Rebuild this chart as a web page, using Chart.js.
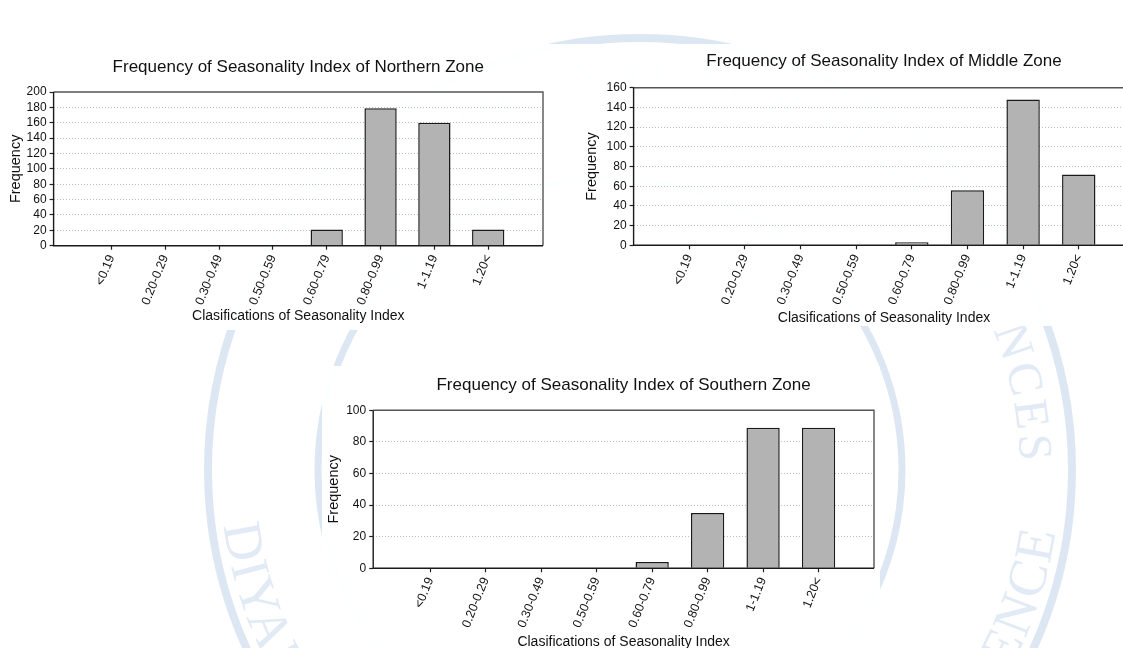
<!DOCTYPE html>
<html>
<head>
<meta charset="utf-8">
<title>Frequency of Seasonality Index</title>
<script src="https://cdn.jsdelivr.net/npm/chart.js@4.4.1/dist/chart.umd.min.js"></script>
<style>
  html, body { margin: 0; padding: 0; background: #fff; overflow: hidden; }
  #page { position: relative; width: 1123px; height: 648px; overflow: hidden; background: #fff; }
  #seal { position: absolute; left: 0; top: 0; }
  .panel { position: absolute; background: rgba(255,255,255,0.97); }
  canvas { position: absolute; }
</style>
</head>
<body>
<div id="page">
  <!-- faint journal seal in the page background -->
  <svg id="seal" width="1123" height="648" viewBox="0 0 1123 648">
    <defs>
      <path id="sealBottom" d="M 221.6 433.4 A 420 420 0 1 0 1058.4 433.4"/>
      <path id="sealTop" d="M 261.4 503.1 A 380 380 0 1 1 1018.6 503.1"/>
    </defs>
    <g fill="none" stroke="#dde7f4">
      <circle cx="640" cy="470" r="432" stroke-width="8"/>
      <circle cx="610" cy="470" r="292" stroke-width="7"/>
    </g>
    <g fill="#e2eaf6" font-family="'Liberation Serif', serif">
      <text font-size="54" letter-spacing="1.5" text-anchor="end"><textPath href="#sealBottom" startOffset="93%">DIYALA UNIVERSITY - COLLEGE OF SCIENCE</textPath></text>
      <text font-size="48" letter-spacing="4" text-anchor="end"><textPath href="#sealTop" startOffset="97%">JOURNAL FOR PURE SCIENCES</textPath></text>
    </g>
  </svg>

  <div class="panel" style="left:0px;top:44px;width:566px;height:286px"></div>
  <div class="panel" style="left:564px;top:44px;width:559px;height:282px"></div>
  <div class="panel" style="left:322px;top:366px;width:558px;height:282px"></div>

  <canvas id="northChart" width="580" height="300" style="left:0px;top:40px"></canvas>
  <canvas id="middleChart" width="580" height="310" style="left:580px;top:30px"></canvas>
  <canvas id="southChart" width="600" height="310" style="left:320px;top:350px"></canvas>
</div>

<script>
// Seasonality index classes (x axis) and counts per zone
const categories = ['<0.19', '0.20-0.29', '0.30-0.49', '0.50-0.59', '0.60-0.79', '0.80-0.99', '1-1.19', '1.20<'];
const northernFreq = [0, 0, 0, 0, 21, 179, 160, 21];
const middleFreq   = [0, 0, 0, 0, 3, 56, 148, 72];
const southernFreq = [0, 0, 0, 0, 4, 35, 89, 89];

const northernTitle = 'Frequency of Seasonality Index of Northern Zone';
const middleTitle   = 'Frequency of Seasonality Index of Middle Zone';
const southernTitle = 'Frequency of Seasonality Index of Southern Zone';
const xAxisTitle = 'Clasifications of Seasonality Index';
const yAxisTitle = 'Frequency';

Chart.defaults.font.family = "'Liberation Sans', Arial, Helvetica, sans-serif";
Chart.defaults.color = '#111';

// Box around the plotting area: dark axes on the left/bottom, grey frame top/right
const plotFrame = {
  id: 'plotFrame',
  afterDatasetsDraw(chart) {
    const { ctx, chartArea: a } = chart;
    ctx.save();
    ctx.lineWidth = 1.4;
    ctx.strokeStyle = '#555';
    ctx.beginPath();
    ctx.moveTo(a.left, a.top);
    ctx.lineTo(a.right, a.top);
    ctx.lineTo(a.right, a.bottom);
    ctx.stroke();
    ctx.strokeStyle = '#1a1a1a';
    ctx.beginPath();
    ctx.moveTo(a.left, a.top);
    ctx.lineTo(a.left, a.bottom);
    ctx.lineTo(a.right, a.bottom);
    ctx.stroke();
    ctx.restore();
  }
};

function makeChart(canvasId, title, values, cfg) {
  const points = values.map((v, i) => ({ x: i, y: v }));
  return new Chart(document.getElementById(canvasId), {
    type: 'bar',
    data: {
      datasets: [{
        data: points,
        backgroundColor: '#b3b3b3',
        borderColor: '#1a1a1a',
        borderWidth: 1.5,
        borderSkipped: 'start',
        categoryPercentage: 1,
        barPercentage: 0.6
      }]
    },
    options: {
      responsive: false,
      animation: false,
      devicePixelRatio: 1,
      layout: { padding: { left: 0, right: cfg.padRight, top: 0, bottom: 0 } },
      plugins: {
        legend: { display: false },
        tooltip: { enabled: false },
        title: {
          display: true,
          text: title,
          fullSize: false,
          color: '#111',
          font: { size: 17, weight: 'normal', lineHeight: 1.2 },
          padding: { top: cfg.titleTop, bottom: cfg.titleBottom }
        }
      },
      scales: {
        x: {
          type: 'linear',
          min: cfg.xMin,
          max: cfg.xMax,
          offset: false,
          afterBuildTicks: axis => { axis.ticks = categories.map((_, i) => ({ value: i })); },
          afterFit: scale => { scale.height = cfg.xHeight; },
          grid: {
            offset: false,
            drawOnChartArea: false,
            drawTicks: true,
            tickLength: 4,
            tickColor: '#222',
            tickWidth: 1.2
          },
          border: { display: false },
          ticks: {
            autoSkip: false,
            minRotation: 68,
            maxRotation: 68,
            padding: 3,
            color: '#111',
            font: { size: 12.5 },
            callback: v => (categories[v] !== undefined ? categories[v] : '')
          },
          title: {
            display: true,
            text: xAxisTitle,
            color: '#111',
            font: { size: 14, lineHeight: 1.2 },
            padding: { top: 0, bottom: cfg.xTitleBottom }
          }
        },
        y: {
          min: 0,
          max: cfg.yMax,
          afterFit: scale => { scale.width = cfg.yWidth; },
          ticks: { stepSize: 20, autoSkip: false, padding: 3, color: '#111', font: { size: 12 } },
          grid: {
            color: c => (c.tick && (c.tick.value === 0 || c.tick.value === cfg.yMax)) ? 'rgba(0,0,0,0)' : '#bdbdbd',
            lineWidth: 1,
            drawTicks: true,
            tickLength: 4,
            tickColor: '#222',
            tickWidth: 1.2
          },
          border: { display: false, dash: [1, 2] },
          title: {
            display: true,
            text: yAxisTitle,
            color: '#111',
            font: { size: 14.5, lineHeight: 1.2 },
            padding: { top: cfg.yTitleTop, bottom: 0 }
          }
        }
      }
    },
    plugins: [plotFrame]
  });
}

makeChart('northChart', northernTitle, northernFreq, {
  yMax: 200, xMin: -1.074, xMax: 8.018,
  padRight: 37, yWidth: 53.6, xHeight: 94.3,
  titleTop: 17.3, titleBottom: 14.3, xTitleBottom: 15.1, yTitleTop: 7.4
});

makeChart('middleChart', middleTitle, middleFreq, {
  yMax: 160, xMin: -1.0, xMax: 8.0,
  padRight: 25.6, yWidth: 53.6, xHeight: 94.7,
  titleTop: 21.3, titleBottom: 16.0, xTitleBottom: 13.6, yTitleTop: 3.4
});

makeChart('southChart', southernTitle, southernFreq, {
  yMax: 100, xMin: -1.03, xMax: 8.0,
  padRight: 46, yWidth: 53.2, xHeight: 91.7,
  titleTop: 24.8, titleBottom: 15.1, xTitleBottom: 9.9, yTitleTop: 5.4
});
</script>
</body>
</html>
